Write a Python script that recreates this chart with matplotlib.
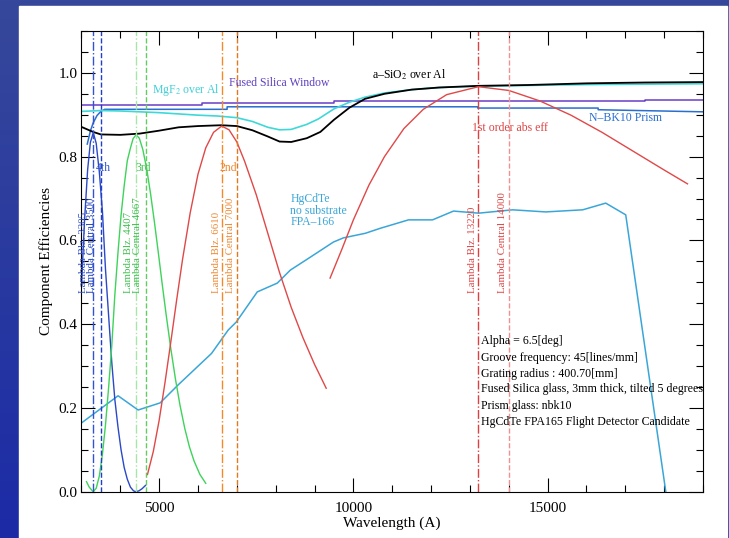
import numpy as np
import matplotlib.pyplot as plt
from matplotlib.patches import Rectangle
from matplotlib.ticker import MultipleLocator

plt.rcParams['font.family'] = 'Liberation Serif'
plt.rcParams['mathtext.fontset'] = 'stix'

# Reflectivity of the mirror coatings
wl_sio2 = [3000, 3300, 3500, 4000, 4500, 5000, 5500, 6000, 6600, 7000, 7400, 7800, 8100, 8400,
           8800, 9150, 9500, 9900, 10300, 10800, 11500, 12200, 13200, 14500, 16000, 17500, 19000]
eff_sio2 = [0.871, 0.859, 0.853, 0.852, 0.855, 0.862, 0.870, 0.873, 0.875, 0.873, 0.863, 0.848, 0.836, 0.835,
            0.844, 0.859, 0.888, 0.917, 0.938, 0.950, 0.960, 0.965, 0.969, 0.971, 0.975, 0.977, 0.978]

wl_mgf2 = [3000, 3500, 4000, 4500, 5000, 5500, 6000, 6500, 7000, 7400, 7800, 8100, 8400, 8800,
           9100, 9500, 9900, 10300, 10800, 11500, 12200, 13200, 14500, 16000, 17500, 19000]
eff_mgf2 = [0.908, 0.910, 0.909, 0.907, 0.905, 0.902, 0.899, 0.897, 0.893, 0.884, 0.870, 0.864, 0.865, 0.877,
            0.890, 0.914, 0.930, 0.942, 0.952, 0.960, 0.965, 0.968, 0.970, 0.972, 0.973, 0.974]

# Fused silica window and N-BK10 prism transmission
wl_window = [3000, 6100, 9500, 17500, 19000]
eff_window = [0.924, 0.928, 0.932, 0.935, 0.935]

wl_prism = [3150, 3230, 3300, 3400, 3500, 3600, 6750, 6750, 13200, 13200, 16300, 16300, 19000]
eff_prism = [0.830, 0.861, 0.880, 0.898, 0.908, 0.913, 0.913, 0.919, 0.919, 0.916, 0.916, 0.912, 0.907]

# HgCdTe FPA-166 quantum efficiency
wl_qe = [3000, 3943, 4459, 5026, 5490, 6348, 6778, 6985, 7526, 8041, 8376, 8892, 9485, 9742, 10309,
         10696, 11418, 12036, 12577, 13222, 14098, 14948, 15902, 16495, 17010, 18041]
eff_qe = [0.164, 0.229, 0.195, 0.212, 0.255, 0.330, 0.386, 0.405, 0.477, 0.498, 0.529, 0.560, 0.596, 0.606, 0.617,
          0.629, 0.649, 0.649, 0.670, 0.665, 0.673, 0.668, 0.673, 0.689, 0.661, 0.0]

# Grating efficiency per order
wl_ord1 = [9400, 9700, 10000, 10400, 10800, 11300, 11800, 12400, 13220, 14000, 14800, 15600, 16400,
           17200, 18000, 18600]
eff_ord1 = [0.510, 0.578, 0.649, 0.732, 0.800, 0.867, 0.913, 0.948, 0.967, 0.958, 0.933, 0.899, 0.858,
            0.813, 0.768, 0.735]

wl_ord2 = [4700, 4850, 5000, 5150, 5300, 5450, 5600, 5800, 6000, 6200, 6400, 6610, 6800, 7000, 7200,
           7500, 7800, 8100, 8400, 8700, 9000, 9300]
eff_ord2 = [0.041, 0.096, 0.170, 0.260, 0.357, 0.457, 0.553, 0.666, 0.758, 0.821, 0.858, 0.873, 0.864, 0.835,
            0.789, 0.709, 0.616, 0.523, 0.440, 0.368, 0.304, 0.247]

wl_ord3 = [3130, 3200, 3300, 3380, 3460, 3540, 3620, 3700, 3780, 3860, 3940, 4020, 4100, 4180, 4260, 4330,
           4407, 4490, 4580, 4680, 4780, 4880, 4980, 5080, 5180, 5300, 5420, 5540, 5660, 5780, 5900, 6050, 6200]
eff_ord3 = [0.024, 0.011, 0.000, 0.008, 0.037, 0.089, 0.160, 0.249, 0.347, 0.470, 0.570, 0.660, 0.730, 0.790,
            0.820, 0.843, 0.852, 0.844, 0.817, 0.771, 0.711, 0.643, 0.570, 0.495, 0.423, 0.342, 0.269, 0.205,
            0.151, 0.107, 0.073, 0.041, 0.020]

wl_ord4 = [3000, 3080, 3160, 3230, 3305, 3380, 3460, 3540, 3620, 3700, 3780, 3860, 3940, 4020, 4100, 4180,
           4260, 4340, 4400, 4480, 4560, 4650]
eff_ord4 = [0.488, 0.648, 0.769, 0.834, 0.857, 0.832, 0.764, 0.670, 0.530, 0.420, 0.310, 0.220, 0.155, 0.100,
            0.058, 0.030, 0.011, 0.002, 0.000, 0.002, 0.007, 0.015]

blaze_wl = [3305, 4407, 6610, 13220]
central_wl = [3500, 4667, 7000, 14000]
blaze_colors = ['#3352d0', '#a6e6a6', '#f08a2a', '#dd4040']
central_colors = ['#2040c8', '#62cc62', '#e07a20', '#f09090']
blaze_text = ['#3355cc', '#40c050', '#ee8833', '#dd4444']
central_text = ['#2244bb', '#40c050', '#ee8833', '#dd4444']
# right edge of each rotated label, in Angstrom
blaze_label_x = [3170, 4330, 6590, 13190]
central_label_x = [3376, 4562, 6950, 13960]
order_names = ['4th', '3rd', '2nd']
order_pos = [3376, 4381, 6546]

notes = [
    'Alpha = 6.5[deg]',
    'Groove frequency: 45[lines/mm]',
    'Grating radius : 400.70[mm]',
    'Fused Silica glass, 3mm thick, tilted 5 degrees',
    'Prism glass: nbk10',
    'HgCdTe FPA165 Flight Detector Candidate',
]
notes_y = [0.360, 0.319, 0.281, 0.245, 0.204, 0.166]

fig = plt.figure(figsize=(7.29, 5.38), dpi=100)

# slide background: blue frame with a white panel
bg = fig.add_axes([0, 0, 1, 1], zorder=-10)
grad = np.linspace(0, 1, 256).reshape(-1, 1)
top = np.array([0x36, 0x48, 0x9a]) / 255
bot = np.array([0x1c, 0x2b, 0xa6]) / 255
img = top[None, None, :] * (1 - grad[..., None]) + bot[None, None, :] * grad[..., None]
bg.imshow(img, aspect='auto', extent=[0, 1, 0, 1], origin='upper')
bg.add_patch(Rectangle((0.0261, 0.0), 0.9712, 0.9888, color='white'))
bg.set_xlim(0, 1)
bg.set_ylim(0, 1)
bg.axis('off')

ax = fig.add_axes([0.1117, 0.0861, 0.8527, 0.8563])
ax.set_facecolor('white')

ax.plot(wl_window, eff_window, color='#6a3dc8', lw=1.1, drawstyle='steps-post')
ax.plot(wl_prism, eff_prism, color='#2a6fd0', lw=1.1)
ax.plot(wl_mgf2, eff_mgf2, color='#3fd8d8', lw=1.2)
ax.plot(wl_sio2, eff_sio2, color='black', lw=1.3)
ax.plot(wl_qe, eff_qe, color='#3aa6d8', lw=1.1)

ax.plot(wl_ord4, eff_ord4, color='#2a48c8', lw=1.0)
ax.plot(wl_ord3, eff_ord3, color='#3ed35a', lw=1.0)
ax.plot(wl_ord2, eff_ord2, color='#e04848', lw=1.0)
ax.plot(wl_ord1, eff_ord1, color='#e04848', lw=1.0)

for i in range(len(blaze_wl)):
    ax.axvline(blaze_wl[i], color=blaze_colors[i], ls='-.', lw=1.0)
    ax.axvline(central_wl[i], color=central_colors[i], ls='--', lw=1.0)
    ax.text(blaze_label_x[i], 0.475, 'Lambda Blz. %d' % blaze_wl[i], rotation=90,
            color=blaze_text[i], fontsize=7.8, ha='right', va='bottom')
    ax.text(central_label_x[i], 0.475, 'Lambda Central %d' % central_wl[i], rotation=90,
            color=central_text[i], fontsize=7.8, ha='right', va='bottom')

for i in range(len(order_names)):
    ax.text(order_pos[i], 0.773, order_names[i], color=blaze_text[i], fontsize=8.5, va='center')
ax.text(13041, 0.868, '1st order abs eff', color='#dd4444', fontsize=8.5, va='center')

ax.text(4820, 0.959, 'MgF$_2$ over Al', color='#3fd0d8', fontsize=8.5, va='center')
ax.text(6800, 0.977, 'Fused Silica Window', color='#6040c0', fontsize=8.5, va='center')
ax.text(10490, 0.995, 'a\u2013SiO$_2$ over Al', color='black', fontsize=8.5, va='center')
ax.text(16057, 0.892, 'N\u2013BK10 Prism', color='#2a6fd0', fontsize=8.5, va='center')
ax.text(8376, 0.713, 'HgCdTe\nno substrate\nFPA\u2013166', color='#3aa6d8', fontsize=8.5,
        va='top', linespacing=0.95)

for i in range(len(notes)):
    ax.text(13273, notes_y[i], notes[i], color='black', fontsize=8.6, va='center')

ax.set_xlim(3000, 19000)
ax.set_ylim(0, 1.1)
ax.xaxis.set_major_locator(MultipleLocator(5000))
ax.xaxis.set_minor_locator(MultipleLocator(1000))
ax.yaxis.set_major_locator(MultipleLocator(0.2))
ax.yaxis.set_minor_locator(MultipleLocator(0.05))
ax.yaxis.set_major_formatter(plt.FormatStrFormatter('%.1f'))
ax.tick_params(which='both', direction='in', top=True, right=True, width=0.8, labelsize=11)
ax.tick_params(which='major', length=10)
ax.tick_params(which='minor', length=5)
ax.tick_params(axis='x', which='major', pad=7.5)
ax.tick_params(axis='y', which='major', pad=3)
for s in ax.spines.values():
    s.set_linewidth(0.8)

ax.set_xlabel('Wavelength (A)', fontsize=11, labelpad=1)
ax.set_ylabel('Component Efficiencies', fontsize=11, labelpad=4)

fig.savefig('out.png', dpi=100)
